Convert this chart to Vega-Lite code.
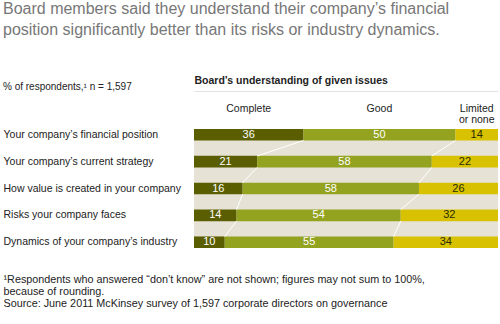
{
  "$schema": "https://vega.github.io/schema/vega-lite/v6.json",
  "width": 304,
  "height": 119,
  "autosize": "none",
  "padding": {"left": 194, "top": 129, "right": 2, "bottom": 76},
  "background": "white",
  "config": {
    "font": "Arial",
    "view": {"stroke": null, "fill": "#e6e3d6"}
  },
  "title": {
    "text": ["Board members said they understand their company’s financial", "position significantly better than its risks or industry dynamics."],
    "subtitle": "% of respondents,¹ n = 1,597",
    "anchor": "start",
    "frame": "group",
    "dx": -191,
    "fontSize": 16,
    "fontWeight": "normal",
    "color": "#777777",
    "lineHeight": 21,
    "subtitleFontSize": 10,
    "subtitleColor": "#222222",
    "subtitlePadding": 44,
    "offset": -17
  },
  "data": {
    "values": [
      {"issue": "Your company’s financial position", "level": "Complete", "value": 36},
      {"issue": "Your company’s financial position", "level": "Good", "value": 50},
      {"issue": "Your company’s financial position", "level": "Limited or none", "value": 14},
      {"issue": "Your company’s current strategy", "level": "Complete", "value": 21},
      {"issue": "Your company’s current strategy", "level": "Good", "value": 58},
      {"issue": "Your company’s current strategy", "level": "Limited or none", "value": 22},
      {"issue": "How value is created in your company", "level": "Complete", "value": 16},
      {"issue": "How value is created in your company", "level": "Good", "value": 58},
      {"issue": "How value is created in your company", "level": "Limited or none", "value": 26},
      {"issue": "Risks your company faces", "level": "Complete", "value": 14},
      {"issue": "Risks your company faces", "level": "Good", "value": 54},
      {"issue": "Risks your company faces", "level": "Limited or none", "value": 32},
      {"issue": "Dynamics of your company’s industry", "level": "Complete", "value": 10},
      {"issue": "Dynamics of your company’s industry", "level": "Good", "value": 55},
      {"issue": "Dynamics of your company’s industry", "level": "Limited or none", "value": 34}
    ]
  },
  "layer": [
    {
      "mark": {"type": "bar"},
      "encoding": {
        "y": {
          "field": "issue",
          "type": "nominal",
          "sort": ["Your company’s financial position", "Your company’s current strategy", "How value is created in your company", "Risks your company faces", "Dynamics of your company’s industry"],
          "scale": {"paddingInner": 0.57, "paddingOuter": 0},
          "axis": {
            "title": ["¹Respondents who answered “don’t know” are not shown; figures may not sum to 100%,", "\u00a0because of rounding.", "\u00a0Source: June 2011 McKinsey survey of 1,597 corporate directors on governance"],
            "titleAngle": 0,
            "titleAlign": "left",
            "titleBaseline": "alphabetic",
            "titleX": -191,
            "titleY": 153,
            "titleFontSize": 10.8,
            "titleFontWeight": "normal",
            "titleColor": "#222222",
            "titleLineHeight": 12,
            "labelAlign": "left",
            "labelPadding": 191,
            "labelFontSize": 10.5,
            "labelColor": "#222222",
            "labelLimit": 200,
            "ticks": false,
            "domain": false
          }
        },
        "x": {
          "field": "value",
          "type": "quantitative",
          "stack": "normalize",
          "scale": {"domain": [0, 1], "nice": false},
          "axis": {
            "orient": "top",
            "title": "Board’s understanding of given issues",
            "titleAnchor": "start",
            "titleAlign": "left",
            "titleFontSize": 10.5,
            "titleFontWeight": "bold",
            "titleColor": "#222222",
            "titlePadding": 6,
            "labels": false,
            "ticks": false,
            "grid": false,
            "domain": true,
            "domainColor": "#e2e2e2",
            "domainWidth": 1,
            "offset": 38
          }
        },
        "color": {
          "field": "level",
          "type": "nominal",
          "scale": {"domain": ["Complete", "Good", "Limited or none"], "range": ["#5a5e00", "#93a21f", "#d8c100"]},
          "legend": null
        }
      }
    },
    {
      "transform": [
        {"filter": "datum.level !== 'Limited or none'"},
        {"joinaggregate": [{"op": "sum", "field": "value", "as": "total"}], "groupby": ["issue"]},
        {"window": [{"op": "sum", "field": "value", "as": "cum"}], "groupby": ["issue"], "sort": [{"field": "level", "order": "ascending"}], "frame": [null, 0]},
        {"calculate": "datum.cum / (datum.total + (datum.issue === 'Your company’s current strategy' ? 22 : datum.issue === 'Your company’s financial position' ? 14 : datum.issue === 'How value is created in your company' ? 26 : datum.issue === 'Risks your company faces' ? 32 : 34))", "as": "frac"},
        {"calculate": "indexof(['Your company’s financial position', 'Your company’s current strategy', 'How value is created in your company', 'Risks your company faces', 'Dynamics of your company’s industry'], datum.issue)", "as": "row"},
        {"window": [{"op": "lead", "field": "frac", "as": "nextFrac"}, {"op": "lead", "field": "issue", "as": "nextIssue"}], "groupby": ["level"], "sort": [{"field": "row", "order": "ascending"}]},
        {"filter": "datum.nextIssue != null"}
      ],
      "mark": {"type": "rule", "color": "#ffffff", "strokeWidth": 1, "yOffset": 5.7, "y2Offset": -5.7},
      "encoding": {
        "y": {"field": "issue", "type": "nominal", "sort": ["Your company’s financial position", "Your company’s current strategy", "How value is created in your company", "Risks your company faces", "Dynamics of your company’s industry"]},
        "y2": {"field": "nextIssue"},
        "x": {"field": "frac", "type": "quantitative"},
        "x2": {"field": "nextFrac"}
      }
    },
    {
      "mark": {"type": "text", "fontSize": 11, "baseline": "middle", "align": "center"},
      "encoding": {
        "y": {"field": "issue", "type": "nominal", "sort": ["Your company’s financial position", "Your company’s current strategy", "How value is created in your company", "Risks your company faces", "Dynamics of your company’s industry"]},
        "x": {"field": "value", "type": "quantitative", "stack": "normalize", "bandPosition": 0.5},
        "detail": {"field": "level"},
        "order": {"field": "level", "type": "ordinal", "sort": "ascending"},
        "text": {"field": "value", "type": "quantitative"},
        "color": {"condition": {"test": "datum.level === 'Limited or none'", "value": "#2b2b00"}, "value": "#ffffff"}
      }
    },
    {
      "transform": [
        {"filter": "datum.issue === 'Your company’s financial position'"},
        {"calculate": "datum.level === 'Limited or none' ? 'Limited\\nor none' : datum.level", "as": "header"}
      ],
      "mark": {"type": "text", "fontSize": 10.5, "baseline": "alphabetic", "align": "center", "dy": -23, "lineBreak": "\n", "lineHeight": 11, "color": "#222222"},
      "encoding": {
        "y": {"field": "issue", "type": "nominal", "sort": ["Your company’s financial position", "Your company’s current strategy", "How value is created in your company", "Risks your company faces", "Dynamics of your company’s industry"]},
        "x": {"field": "value", "type": "quantitative", "stack": "normalize", "bandPosition": 0.5},
        "detail": {"field": "level"},
        "order": {"field": "level", "type": "ordinal", "sort": "ascending"},
        "text": {"field": "header"}
      }
    }
  ]
}
